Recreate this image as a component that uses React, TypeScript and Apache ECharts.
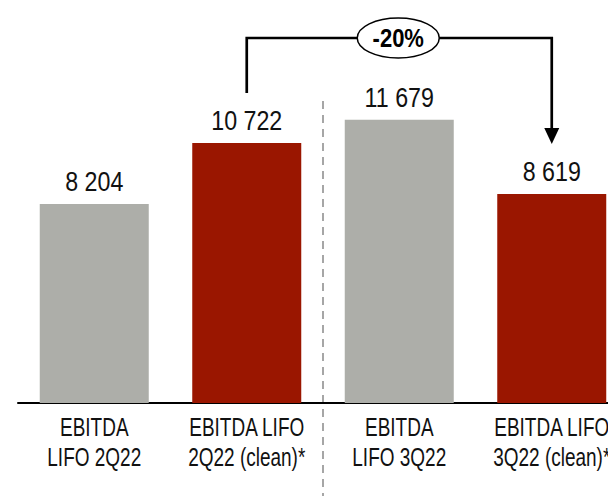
import React, { useEffect, useRef } from "react";
import * as echarts from "echarts";

const categories = ["EBITDA\nLIFO 2Q22", "EBITDA LIFO\n2Q22 (clean)*", "EBITDA\nLIFO 3Q22", "EBITDA LIFO\n3Q22 (clean)*"];
const values = [8204, 10722, 11679, 8619];
const barColors = ["#ADAEA9", "#9A1600", "#ADAEA9", "#9A1600"];
const changeLabel = "-20%";

const FONT = "'Liberation Sans', Arial, sans-serif";

const fmt = (v: number) => String(v).replace(/\B(?=(\d{3})+(?!\d))/g, " ");

export default function App() {
  const ref = useRef<HTMLDivElement>(null);
  useEffect(() => {
    document.body.style.margin = "0";
    document.body.style.overflow = "hidden";
    const chart = echarts.init(ref.current!, null, { renderer: "svg", width: 608, height: 496 });
    chart.setOption({
      animation: false,
      grid: { left: 18, top: 15, width: 610, bottom: 93, outerBoundsMode: "none", containLabel: false },
      xAxis: {
        type: "category",
        data: categories,
        axisLine: { lineStyle: { color: "#000", width: 2 } },
        axisTick: { show: false },
        axisLabel: { show: false },
      },
      yAxis: { type: "value", min: 0, max: 16000, show: false, splitLine: { show: false } },
      series: [
        {
          type: "bar",
          barWidth: 109,
          data: values.map((v, i) => ({ value: v, itemStyle: { color: barColors[i] } })),
          label: { show: false },
        },
      ],
    });

    const px = (i: number, v: number) => chart.convertToPixel({ xAxisIndex: 0, yAxisIndex: 0 }, [i, v]) as number[];
    const axisY = px(0, 0)[1];
    const cx = categories.map((_, i) => px(i, 0)[0]);
    const divX = (cx[1] + cx[2]) / 2;
    const topY = 38;
    const ovalX = cx[2] - 1;

    const valueTexts = values.map((v, i) => {
      const p = px(i, v);
      return {
        type: "text",
        x: p[0],
        y: p[1] - 22.5,
        scaleX: 0.83,
        style: { text: fmt(v), fontFamily: FONT, fontSize: 28, fill: "#111", align: "center", verticalAlign: "middle" },
      };
    });
    const catTexts = categories.map((c, i) => ({
      type: "text",
      x: cx[i],
      y: axisY + 40,
      scaleX: 0.76,
      style: { text: c, fontFamily: FONT, fontSize: 25, lineHeight: 30, fill: "#111", align: "center", verticalAlign: "middle" },
    }));

    chart.setOption({
      graphic: [
        { type: "line", shape: { x1: divX, y1: 101, x2: divX, y2: 496 }, style: { stroke: "#A6A6A6", lineWidth: 2, lineDash: [8, 6] } },
        { type: "polyline", shape: { points: [[cx[1], 93], [cx[1], topY], [cx[3], topY], [cx[3], 130]] }, style: { stroke: "#000", lineWidth: 2.7, fill: null } },
        { type: "polygon", shape: { points: [[cx[3] - 7.5, 128], [cx[3] + 7.5, 128], [cx[3], 144]] }, style: { fill: "#000" } },
        { type: "ellipse", shape: { cx: ovalX, cy: topY, rx: 41, ry: 20 }, style: { fill: "#fff", stroke: "#000", lineWidth: 1.5 } },
        { type: "text", x: ovalX, y: topY + 1, scaleX: 0.88, style: { text: changeLabel, fontFamily: FONT, fontSize: 25, fontWeight: "bold", fill: "#000", align: "center", verticalAlign: "middle" } },
        ...valueTexts,
        ...catTexts,
      ],
    });
    return () => chart.dispose();
  }, []);
  return <div ref={ref} style={{ position: "absolute", left: 0, top: 0, width: 608, height: 496 }} />;
}
